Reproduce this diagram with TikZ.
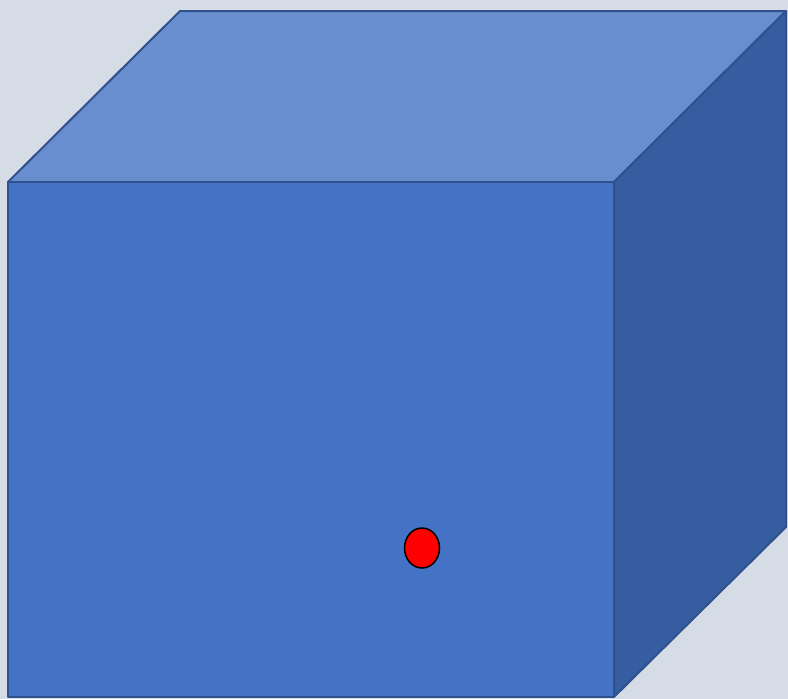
\documentclass[tikz,border=0pt]{standalone}
\usetikzlibrary{shapes.geometric}
\definecolor{bg}{HTML}{D6DCE5}
\definecolor{front}{HTML}{4472C4}
\definecolor{topf}{HTML}{698ED0}
\definecolor{side}{HTML}{355D9F}
\definecolor{edge}{HTML}{2F528F}
\begin{document}
\begin{tikzpicture}[x=1pt,y=-1pt,
  face/.style={draw=edge,line width=2pt,line join=round}]
\fill[bg] (0,0) rectangle (788,699);
\useasboundingbox (0,0) rectangle (788,699);
\coordinate (A) at (8,182);
\coordinate (B) at (614,182);
\coordinate (C) at (614,697);
\coordinate (D) at (8,697);
\coordinate (E) at (180,11);
\coordinate (F) at (786,11);
\coordinate (G) at (786,527);
\draw[face,fill=topf] (A) -- (E) -- (F) -- (B) -- cycle;
\draw[face,fill=side] (B) -- (F) -- (G) -- (C) -- cycle;
\draw[face,fill=front] (A) -- (B) -- (C) -- (D) -- cycle;
\node[draw=black,line width=1.5pt,fill=red,ellipse,minimum width=35pt,minimum height=40pt,inner sep=0pt] (dot) at (422,548) {};
\end{tikzpicture}
\end{document}
